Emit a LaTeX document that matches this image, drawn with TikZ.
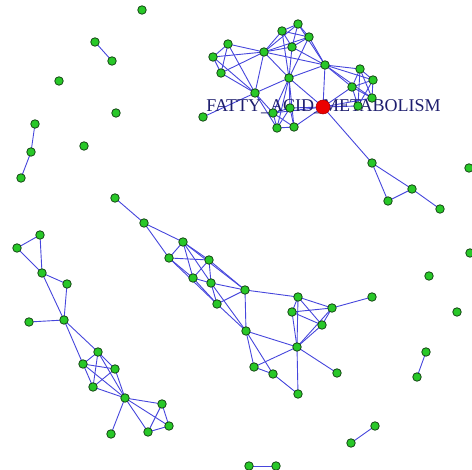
\documentclass[tikz,border=0pt]{standalone}
\usepackage{fontspec}
\setmainfont{Liberation Serif}
\definecolor{gfill}{RGB}{40,200,40}
\definecolor{gline}{RGB}{20,70,20}
\definecolor{eblue}{RGB}{70,70,220}
\definecolor{navy}{RGB}{30,30,110}
\definecolor{rfill}{RGB}{235,0,0}
\tikzset{
  g/.style={circle,fill=gfill,draw=gline,line width=0.8pt,minimum size=8.5pt,inner sep=0pt},
  hub/.style={circle,fill=rfill,draw=rfill!70!black,line width=0.5pt,minimum size=14pt,inner sep=0pt},
  e/.style={draw=eblue,line width=0.9pt},
  lbl/.style={text=navy,font=\fontsize{18}{18}\selectfont,inner sep=0pt}
}
\begin{document}
\begin{tikzpicture}[x=1pt,y=-1pt]
\useasboundingbox (0,0) rectangle (472,470);
\foreach \n/\x/\y in {A1/228/44,A2/213/57,A3/221/73,A4/264/52,A5/282/31,A6/298/24,A7/309/37,A8/292/47,A9/325/65,A10/289/78,A11/255/93,A12/360/69,A13/373/80,A14/352/87,A15/372/98,A16/358/106,A17/273/113,A18/290/108,A19/277/128,A20/294/127,A21/203/117,
B1/372/163,B2/412/189,B3/388/201,B4/440/209,
C1/142/10,C2/95/42,C3/112/61,C4/59/81,C5/116/113,C6/35/124,C7/31/152,C8/21/178,C9/84/146,
E1/40/235,E2/17/248,E3/42/273,E4/67/284,E5/29/322,E6/64/320,E7/98/352,E8/83/364,E9/115/369,E10/93/387,E11/125/398,E12/162/404,E13/169/426,E14/148/432,E15/111/434,
D1/115/198,D2/144/223,D3/183/242,D4/169/258,D5/209/260,D6/193/278,D7/211/283,D8/245/290,D9/217/304,D10/246/331,D11/298/297,D12/292/312,D13/332/308,D14/322/325,D15/297/347,D16/372/297,D17/254/367,D18/273/374,D19/337/373,D20/298/394,
F1/417/377,F2/426/352,G1/351/443,G2/375/426,H1/249/466,H2/276/466,
I1/469/168,I2/470/253,I3/429/276,I4/457/312}
  {\coordinate (\n) at (\x,\y);}
\coordinate (R) at (323,107);
\foreach \a/\b in {A1/A2,A1/A3,A2/A3,A1/A4,A2/A4,A3/A4,A1/A11,A2/A11,A3/A11,A4/A11,A4/A10,A4/A5,A4/A6,A4/A7,A4/A8,A4/A9,A5/A6,A5/A7,A5/A8,A6/A7,A6/A8,A7/A8,A5/A10,A8/A10,A7/A10,A7/A9,A8/A9,A6/A9,A10/A9,A11/A10,A11/A17,A11/A19,A11/A21,A10/A17,A10/A18,A10/A19,A10/A20,A10/R,A9/R,A9/A12,A9/A13,A9/A14,A9/A15,A12/A13,A12/A14,A12/A15,A13/A14,A13/A15,A14/A15,A12/A16,A13/A16,A14/A16,A14/R,A15/R,A16/R,A17/A18,A17/A19,A17/A20,A18/A19,A18/A20,A19/A20,A18/R,A20/R,A17/R,
R/B1,B1/B2,B1/B3,B3/B2,B2/B4,
C2/C3,C6/C7,C7/C8,
E1/E2,E2/E3,E1/E3,E3/E4,E3/E6,E4/E6,E5/E6,E6/E7,E6/E8,E7/E8,E7/E9,E7/E10,E7/E11,E8/E9,E8/E10,E8/E11,E9/E10,E9/E11,E10/E11,E11/E12,E11/E13,E11/E14,E12/E13,E12/E14,E13/E14,E11/E15,
D1/D2,D2/D3,D2/D4,D3/D4,D3/D5,D3/D6,D3/D7,D3/D8,D4/D5,D4/D6,D4/D9,D5/D6,D5/D7,D6/D7,D5/D8,D6/D9,D7/D9,D7/D8,D9/D8,D9/D10,D7/D10,D8/D10,D8/D11,D10/D15,D10/D17,D10/D18,D17/D18,D17/D15,D18/D20,D15/D20,D15/D19,D15/D11,D15/D12,D15/D13,D15/D14,D11/D12,D11/D13,D11/D14,D12/D13,D12/D14,D13/D14,D13/D16,
F1/F2,G1/G2,H1/H2}
  {\draw[e] (\a) -- (\b);}
\node[lbl] (lab) at (323.5,107) {FATTY\_ACID\_METABOLISM};
\foreach \n in {A1,A2,A3,A4,A5,A6,A7,A8,A9,A10,A11,A12,A13,A14,A15,A16,A17,A18,A19,A20,A21,B1,B2,B3,B4,C1,C2,C3,C4,C5,C6,C7,C8,C9,E1,E2,E3,E4,E5,E6,E7,E8,E9,E10,E11,E12,E13,E14,E15,D1,D2,D3,D4,D5,D6,D7,D8,D9,D10,D11,D12,D13,D14,D15,D16,D17,D18,D19,D20,F1,F2,G1,G2,H1,H2,I1,I2,I3,I4}
  {\node[g] (n\n) at (\n) {};}
\node[hub] (hub) at (R) {};
\end{tikzpicture}
\end{document}
